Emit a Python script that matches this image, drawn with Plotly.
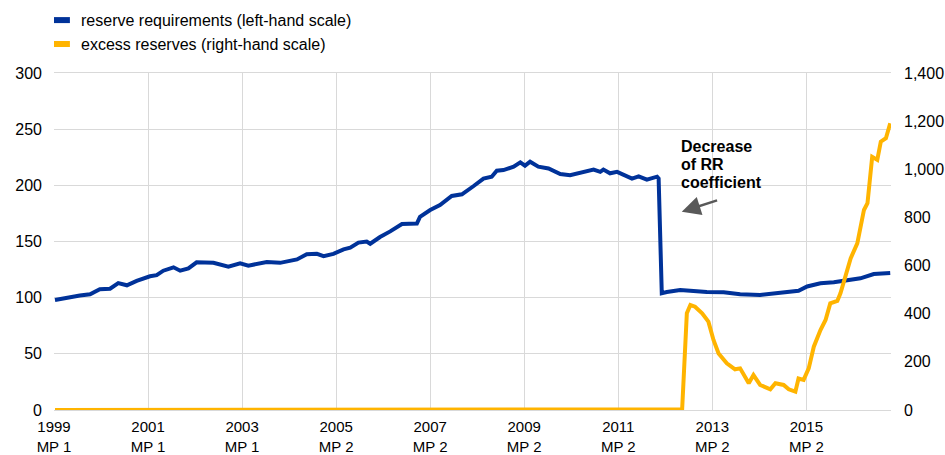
import plotly.graph_objects as go

# x = months since 1999 MP 1 (January 1999)
rr_months = [0.25, 3.2, 6.6, 9.2, 11.7, 14.3, 16.4, 18.6, 21.1, 24.5, 26.2, 27.9, 30.5, 32.2, 34.3,
             36.4, 40.7, 44.5, 47.5, 49.6, 54.3, 57.7, 62.0, 64.5, 67.1, 68.8, 71.3, 73.9, 75.6,
             77.7, 79.8, 80.7, 83.2, 85.8, 88.8, 92.6, 93.4, 96.0, 98.5, 101.5, 104.1, 107.1,
             109.6, 111.7, 113.0, 114.7, 117.3, 119.0, 120.2, 121.5, 123.6, 126.2, 129.2, 131.7,
             134.3, 137.7, 139.4, 140.2, 141.9, 143.7, 147.5, 149.2, 151.3, 153.9, 154.3, 155.1,
             156.4, 159.8, 163.2, 166.6, 170.9, 175.1, 180.2, 185.3, 190.0, 192.2, 195.6, 199.0,
             202.4, 205.8, 209.2, 213.4]
reserve_requirements = [98, 100, 102, 103, 107.5, 108, 113, 111, 115, 119, 120, 124, 127, 124, 126,
                        131.5, 131, 127.6, 130.6, 128.5, 131.7, 131, 134, 138.6, 139, 137, 139, 143, 144.5,
                        149, 150, 148, 154, 159, 165.6, 166, 172, 178, 182.5, 190.5, 192, 199.4,
                        206, 207.7, 213, 213.6, 216.6, 220.5, 217.5, 221, 216.6, 215, 210, 209,
                        211.5, 214, 212, 214, 210.7, 212, 206, 208, 205, 207.7, 206, 104,
                        105, 106.8, 106, 105, 104.8, 103, 102.4, 104.8, 106.2, 110, 112.8, 113.7,
                        115.7, 117.2, 121, 122]

er_months = [0.25, 24, 48, 72, 96, 120, 132, 144, 152, 156, 160.3, 161.5, 162.4, 163.6, 165.4, 167.0,
             168.3, 169.6, 171.7, 173.8, 175.1, 177.3, 178.5, 180.2, 182.8, 184.1, 186.2, 187.5,
             189.2, 190.0, 191.3, 192.6, 193.9, 195.6, 196.9, 198.1, 199.9, 200.7, 201.6, 203.3,
             205.0, 206.7, 207.6, 208.8, 210.1, 211.0, 212.3, 213.4]
excess_reserves = [0, 0, 0, 0, 0, 1, 1, 2, 3, 3, 3, 402, 436, 429, 402, 367,
                   291, 235, 194, 169, 173, 111, 145, 104, 86, 111, 104, 86,
                   76, 131, 125, 173, 263, 332, 374, 443, 453, 485, 540, 630,
                   692, 831, 859, 1052, 1039, 1115, 1129, 1191]

tick_months = [0, 24, 48, 72, 96, 120, 144, 168, 192]
tick_labels = ["1999<br>MP 1", "2001<br>MP 1", "2003<br>MP 1", "2005<br>MP 2", "2007<br>MP 2",
               "2009<br>MP 2", "2011<br>MP 2", "2013<br>MP 2", "2015<br>MP 2"]

note_lines = ["Decrease", "of RR", "coefficient"]

BLUE = "#003299"
ORANGE = "#FFB400"
GRID = "#D9D9D9"
FONT = "Arial, Liberation Sans, sans-serif"

fig = go.Figure()
fig.add_trace(go.Scatter(x=er_months, y=excess_reserves, mode="lines", yaxis="y2",
                         line=dict(color=ORANGE, width=4), name="excess reserves (right-hand scale)"))
fig.add_trace(go.Scatter(x=rr_months, y=reserve_requirements, mode="lines",
                         line=dict(color=BLUE, width=4), name="reserve requirements (left-hand scale)"))

fig.update_layout(
    width=945, height=455,
    margin=dict(l=54, r=54, t=73, b=45),
    paper_bgcolor="white", plot_bgcolor="white",
    showlegend=False,
    font=dict(family=FONT, size=16, color="#000000"),
    xaxis=dict(range=[0, 213.6], tickvals=tick_months, ticktext=tick_labels, showgrid=True,
               gridcolor=GRID, gridwidth=1, zeroline=False, showline=True, mirror=True,
               linecolor=GRID, linewidth=1, ticks="", tickfont=dict(size=15), automargin=False,
               ticklabelstandoff=3),
    yaxis=dict(range=[0, 300], dtick=50, showgrid=True, gridcolor=GRID, gridwidth=1,
               zeroline=False, ticks="", tickfont=dict(size=16), automargin=False,
               ticklabelstandoff=11),
    yaxis2=dict(range=[0, 1400], dtick=200, overlaying="y", side="right", showgrid=False,
                zeroline=False, ticks="", tickformat=",d", tickfont=dict(size=16), automargin=False,
                ticklabelstandoff=12),
)

# manual legend
legend_items = [("reserve requirements (left-hand scale)", BLUE, 1.157),
                ("excess reserves (right-hand scale)", ORANGE, 1.086)]
for text, color, yy in legend_items:
    fig.add_shape(type="line", xref="paper", yref="paper", x0=0.0, x1=0.019, y0=yy, y1=yy,
                  line=dict(color=color, width=6))
    fig.add_annotation(xref="paper", yref="paper", x=0.030, y=yy, text=text, showarrow=False,
                       xanchor="left", yanchor="middle", font=dict(size=16, family=FONT))

for i, line in enumerate(note_lines):
    fig.add_annotation(x=159.5, y=234.8, xref="x", yref="y", text=f"<b>{line}</b>",
                       showarrow=False, xanchor="left", yanchor="middle", align="left",
                       yshift=-18 * i, font=dict(size=16, family=FONT))
fig.add_annotation(x=160.2, y=176.5, ax=169.6, ay=187, xref="x", yref="y", axref="x", ayref="y",
                   text="", showarrow=True, arrowhead=2, arrowsize=1.5, arrowwidth=2.5,
                   arrowcolor="#595959")

fig.write_html("out.html", config={"displayModeBar": False},
               post_script="document.body.style.margin='0';document.body.style.overflow='hidden';")
